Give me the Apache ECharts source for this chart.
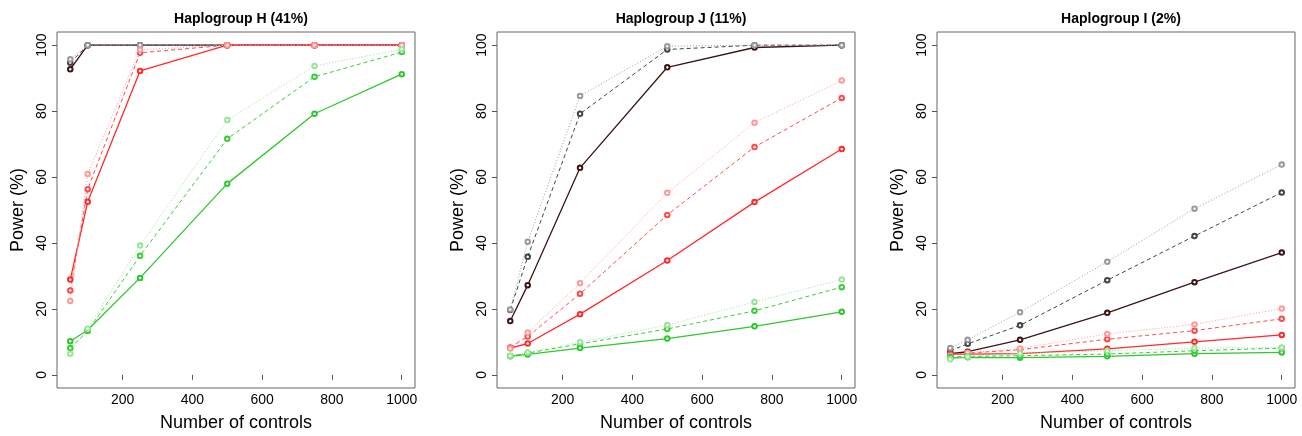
<!DOCTYPE html>
<html>
<head>
<meta charset="utf-8">
<script src="https://cdn.jsdelivr.net/npm/echarts@6/dist/echarts.min.js"></script>
<style>
  html, body { margin: 0; padding: 0; background: #fff; }
  #chart { width: 1302px; height: 436px; }
</style>
</head>
<body>
<div id="chart"></div>
<script>
  const nControls = [50, 100, 250, 500, 750, 1000];
  const panelTitles = ['Haplogroup H (41%)', 'Haplogroup J (11%)', 'Haplogroup I (2%)'];
  const xTicks = [200, 400, 600, 800, 1000];
  const yTicks = [0, 20, 40, 60, 80, 100];

  // each colour: [solid, dashed, dotted]
  const hBlack = [
    [92.7, 100, 100, 100, 100, 100],
    [94.7, 100, 100, 100, 100, 100],
    [95.7, 100, 100, 100, 100, 100]
  ];
  const hRed = [
    [28.9, 52.5, 92.2, 100, 100, 100],
    [25.6, 56.3, 97.7, 100, 100, 100],
    [22.4, 60.9, 98.6, 100, 100, 100]
  ];
  const hGreen = [
    [10.2, 13.6, 29.4, 58.0, 79.2, 91.2],
    [8.1, 13.3, 36.1, 71.6, 90.4, 97.9],
    [6.4, 14.0, 39.2, 77.3, 93.7, 98.8]
  ];

  const jBlack = [
    [16.3, 27.2, 62.8, 93.3, 99.3, 100],
    [19.7, 35.8, 79.2, 98.7, 100, 100],
    [19.8, 40.4, 84.6, 99.7, 100, 100]
  ];
  const jRed = [
    [8.1, 9.5, 18.4, 34.7, 52.4, 68.5],
    [8.3, 11.6, 24.6, 48.5, 69.1, 84.0],
    [8.0, 12.8, 27.8, 55.2, 76.5, 89.3]
  ];
  const jGreen = [
    [5.6, 6.2, 8.1, 11.0, 14.7, 19.1],
    [5.7, 6.6, 9.4, 13.9, 19.4, 26.6],
    [5.8, 6.8, 9.9, 15.1, 22.1, 28.9]
  ];

  const iBlack = [
    [6.4, 7.0, 10.6, 18.8, 28.1, 37.1],
    [7.3, 9.4, 15.0, 28.7, 42.1, 55.3],
    [8.1, 10.6, 19.0, 34.3, 50.4, 63.8]
  ];
  const iRed = [
    [6.3, 6.3, 6.4, 7.9, 10.0, 12.1],
    [6.0, 6.6, 7.6, 10.8, 13.4, 17.0],
    [5.8, 6.7, 8.0, 12.4, 15.3, 20.1]
  ];
  const iGreen = [
    [5.1, 5.3, 5.2, 5.6, 6.4, 6.8],
    [5.4, 5.6, 5.8, 6.3, 7.3, 8.1],
    [4.7, 5.5, 6.5, 7.3, 8.1, 8.3]
  ];

  const panels = [
    [hBlack, hRed, hGreen],
    [jBlack, jRed, jGreen],
    [iBlack, iRed, iGreen]
  ];

  const colours = [
    ['#3c1414', '#444444', '#9a9a9a'],
    ['#ff2a2a', '#ff4a4a', '#ff9a9a'],
    ['#2ec82e', '#3acc3a', '#9ae49a']
  ];
  const dashes = ['solid', [4, 3], [1, 2]];
  const font = 'Liberation Sans, Arial, sans-serif';

  const gridLefts = [57, 497, 937];
  const gridWidth = 358;

  const grids = [], xAxes = [], yAxes = [], titles = [], series = [];

  gridLefts.forEach((left, p) => {
    grids.push({
      left: left, top: 32, width: gridWidth, height: 356,
      outerBoundsMode: 'none',
      show: true, borderColor: '#666', borderWidth: 1
    });
    titles.push({
      text: panelTitles[p],
      left: left + gridWidth / 2, top: 7, textAlign: 'center',
      textStyle: {fontFamily: font, fontSize: 14, fontWeight: 'bold', color: '#000'}
    });
    xAxes.push({
      gridIndex: p, type: 'value', min: 12, max: 1038,
      name: 'Number of controls', nameLocation: 'middle', nameGap: 26,
      nameTextStyle: {fontFamily: font, fontSize: 18, color: '#000'},
      axisLine: {show: false},
      splitLine: {show: false},
      axisTick: {show: true, inside: false, length: 5, customValues: xTicks, lineStyle: {color: '#555'}},
      axisLabel: {
        customValues: xTicks, margin: 5, fontFamily: font, fontSize: 14, color: '#000',
        formatter: v => String(v)
      }
    });
    yAxes.push({
      gridIndex: p, type: 'value', min: -4, max: 104,
      name: 'Power (%)', nameLocation: 'middle', nameGap: 30, nameRotate: 90,
      nameTextStyle: {fontFamily: font, fontSize: 18, color: '#000'},
      axisLine: {show: false},
      splitLine: {show: false},
      axisTick: {show: true, inside: false, length: 5, customValues: yTicks, lineStyle: {color: '#555'}},
      axisLabel: {customValues: yTicks, rotate: 90, margin: 8, fontFamily: font, fontSize: 14, color: '#000'}
    });

    panels[p].forEach((group, c) => {
      group.forEach((vals, k) => {
        series.push({
          type: 'line',
          xAxisIndex: p, yAxisIndex: p,
          data: nControls.map((n, i) => [n, vals[i]]),
          symbol: 'emptyCircle', symbolSize: 4.5,
          showSymbol: true,
          animation: false,
          itemStyle: {color: colours[c][k], borderWidth: 0.7},
          lineStyle: {color: colours[c][k], width: k === 0 ? 1.3 : 1, type: dashes[k]},
          z: 2 + c
        });
      });
    });
  });

  const myChart = echarts.init(document.getElementById('chart'));
  myChart.setOption({
    backgroundColor: '#fff',
    animation: false,
    title: titles,
    grid: grids,
    xAxis: xAxes,
    yAxis: yAxes,
    series: series
  });
</script>
</body>
</html>
